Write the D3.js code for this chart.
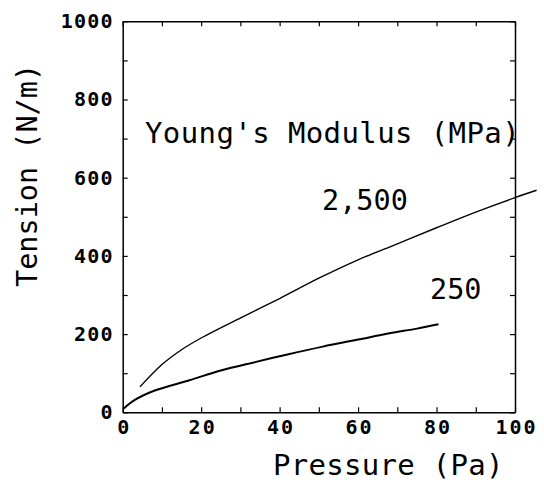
<!DOCTYPE html>
<html>
<head>
<meta charset="utf-8">
<script src="https://cdn.jsdelivr.net/npm/d3@7"></script>
<style>
	body { margin: 0; background: #fff; }
	svg { display: block; }
	text { font-family: "DejaVu Sans Mono", "Liberation Mono", monospace; fill: #000; }
	.axis path, .axis line { stroke: #000; }
</style>
</head>
<body>
<svg id="chart" width="544" height="482"></svg>
<script>
// pressure (Pa) / tension (N/m)
let pressure2500 = [4.4, 10, 15, 20, 31, 40, 50, 60, 70, 80, 90, 100, 105.5];
let tension2500 = [65, 122, 160, 190, 246, 291, 343, 390, 431, 472, 512, 549, 568];

let pressure250 = [0.3, 3, 8, 17, 25, 34, 42, 51, 60, 68, 75, 80.5];
let tension250 = [10, 31, 55, 82, 107, 129, 148, 168, 186, 202, 214, 225];

let xTicks = d3.range(0, 101, 10);
let yTicks = d3.range(0, 1001, 100);

let curveLabels = ["2,500", "250"];

let svg = d3.select("#chart");

let x = d3.scaleLinear().domain([0, 100]).range([122.7, 515]);
let y = d3.scaleLinear().domain([0, 1000]).range([412.3, 21.3]);

// axes, ticks pointing inward
let bottom = svg.append("g")
	.attr("class", "axis")
	.attr("transform", `translate(0, ${y(0)})`)
	.call(d3.axisBottom(x)
		.tickValues(xTicks)
		.tickSizeInner(-5)
		.tickSizeOuter(0)
		.tickPadding(7.5)
		.tickFormat(function(d){ return d % 20 === 0 ? d : ""; }));

bottom.selectAll("text")
	.style("font-size", "20px")
	.style("font-weight", "bold")
	.style("letter-spacing", "2px")
	.attr("dx", 1);

let left = svg.append("g")
	.attr("class", "axis")
	.attr("transform", `translate(${x(0)}, 0)`)
	.call(d3.axisLeft(y)
		.tickValues(yTicks)
		.tickSizeInner(-5)
		.tickSizeOuter(0)
		.tickPadding(9)
		.tickFormat(function(d){ return d % 200 === 0 ? d : ""; }));

left.selectAll("text")
	.style("font-size", "20px")
	.style("font-weight", "bold")
	.style("letter-spacing", "1.2px");

svg.append("g")
	.attr("class", "axis")
	.attr("transform", `translate(0, ${y(1000)})`)
	.call(d3.axisTop(x).tickValues(xTicks).tickSizeInner(-5).tickSizeOuter(0).tickFormat(""));

svg.append("g")
	.attr("class", "axis")
	.attr("transform", `translate(${x(100)}, 0)`)
	.call(d3.axisRight(y).tickValues(yTicks).tickSizeInner(-5).tickSizeOuter(0).tickFormat(""));

svg.selectAll(".axis path").attr("stroke-width", 1.5);
svg.selectAll(".axis line").attr("stroke-width", 1.2);

// curves
let line = d3.line()
	.x(function(d){ return x(d[0]); })
	.y(function(d){ return y(d[1]); })
	.curve(d3.curveCatmullRom.alpha(0.5));

svg.append("path")
	.datum(d3.zip(pressure2500, tension2500))
	.attr("d", line)
	.attr("fill", "none")
	.attr("stroke", "#000")
	.attr("stroke-width", 1.4);

svg.append("path")
	.datum(d3.zip(pressure250, tension250))
	.attr("d", line)
	.attr("fill", "none")
	.attr("stroke", "#000")
	.attr("stroke-width", 2);

// titles and labels
svg.append("text")
	.attr("x", 273)
	.attr("y", 475)
	.style("font-size", "29px")
	.style("letter-spacing", "0.3px")
	.text("Pressure (Pa)");

svg.append("text")
	.attr("transform", "translate(37, 287) rotate(-90)")
	.style("font-size", "28.5px")
	.text("Tension (N/m)");

svg.append("text")
	.attr("x", 145)
	.attr("y", 143)
	.style("font-size", "29px")
	.style("letter-spacing", "0.4px")
	.text("Young's Modulus (MPa)");

svg.append("text")
	.attr("x", 322)
	.attr("y", 209.5)
	.style("font-size", "28.5px")
	.text(curveLabels[0]);

svg.append("text")
	.attr("x", 430)
	.attr("y", 298.5)
	.style("font-size", "28.5px")
	.text(curveLabels[1]);
</script>
</body>
</html>
